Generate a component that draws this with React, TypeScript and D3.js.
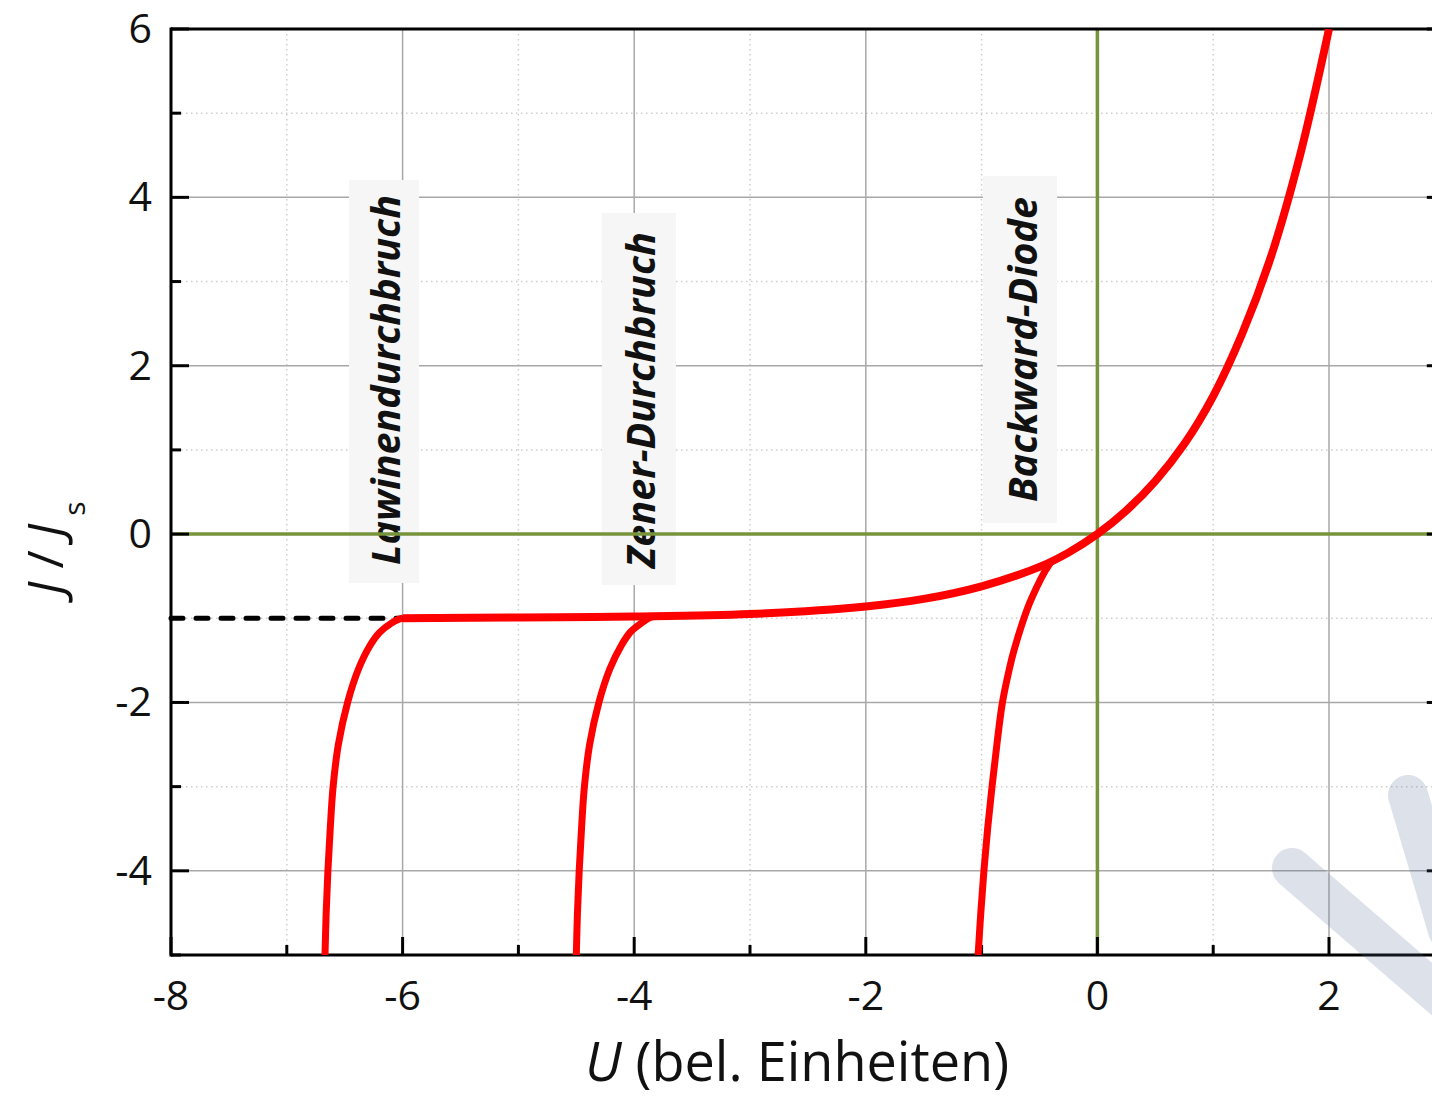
import React from 'react';
import * as d3 from 'd3';

// ---------- data ----------
const xMajorTicks = [-8, -6, -4, -2, 0, 2];
const xMinorTicks = [-7, -5, -3, -1, 1, 3];
const yMajorTicks = [-4, -2, 0, 2, 4, 6];
const yMinorTicks = [-5, -3, -1, 1, 3, 5];

// ideal diode characteristic J/Js vs U
const mainU = [-6, -5, -4, -3, -2, -1.5, -1, -0.5, -0.25, 0, 0.25, 0.5, 0.75, 1, 1.25, 1.5, 1.75, 2];
const mainJ = [-1.0, -0.99, -0.98, -0.95, -0.86, -0.77, -0.62, -0.39, -0.22, 0, 0.28, 0.63, 1.07, 1.64, 2.38, 3.3, 4.5, 6.0];

// avalanche breakdown branch
const avalU = [-6.67, -6.66, -6.645, -6.625, -6.6, -6.555, -6.475, -6.38, -6.28, -6.2, -6.1, -6.03, -6.0];
const avalJ = [-5, -4.5, -4, -3.5, -3, -2.5, -2, -1.6, -1.32, -1.17, -1.06, -1.01, -1.0];

// Zener breakdown branch
const zenerU = [-4.5, -4.49, -4.475, -4.455, -4.43, -4.385, -4.305, -4.21, -4.11, -4.03, -3.93, -3.86, -3.83];
const zenerJ = [-5, -4.5, -4, -3.5, -3, -2.5, -2, -1.6, -1.32, -1.16, -1.05, -0.99, -0.976];

// backward diode branch
const backU = [-1.03, -1.007, -0.98, -0.948, -0.91, -0.868, -0.82, -0.76, -0.72, -0.6, -0.52, -0.46, -0.4];
const backJ = [-5, -4.5, -4, -3.5, -3, -2.5, -2, -1.6, -1.38, -0.87, -0.62, -0.46, -0.33];

// saturation level (dashed)
const satU = [-8, -6];
const satJ = [-1, -1];

const labels = ['Lawinendurchbruch', 'Zener-Durchbruch', 'Backward-Diode'];

// ---------- layout ----------
const W = 1432;
const H = 1098;
const PL = 171;
const PT = 29;
const PB = 955;
const UNIT = 115.8;
const PR = PL + 11 * UNIT;

const x = d3.scaleLinear().domain([-8, 3]).range([PL, PR]);
const y = d3.scaleLinear().domain([-5, 6]).range([PB, PT]);

const line = d3
  .line<[number, number]>()
  .x((d) => x(d[0]))
  .y((d) => y(d[1]))
  .curve(d3.curveCatmullRom.alpha(0.5));

const straight = d3
  .line<[number, number]>()
  .x((d) => x(d[0]))
  .y((d) => y(d[1]));

const zip = (a: number[], b: number[]) => a.map((v, i) => [v, b[i]] as [number, number]);

const FONT = "'Open Sans', 'DejaVu Sans', sans-serif";

// label boxes (positions in picture)
const labelBoxes = [
  { x0: 349, x1: 419, y0: 180, y1: 583, tx: 400, tyStart: 565, len: 370 },
  { x0: 602, x1: 676, y0: 213, y1: 585, tx: 655, tyStart: 568, len: 336 },
  { x0: 983, x1: 1057, y0: 176, y1: 523, tx: 1037, tyStart: 502, len: 305 },
];

export default function App() {
  return (
    <svg
      width={W}
      height={H}
      viewBox={`0 0 ${W} ${H}`}
      style={{ position: 'absolute', left: 0, top: 0, display: 'block', background: '#fff' }}
    >
      <defs>
        <clipPath id="plotClip">
          <rect x={PL} y={PT} width={PR - PL} height={PB - PT} />
        </clipPath>
      </defs>
      <rect x={0} y={0} width={W} height={H} fill="#fff" />

      {/* minor grid */}
      <g stroke="#cdcdcd" strokeWidth={1.5} strokeDasharray="1.5,3.5">
        {xMinorTicks.map((t) => (
          <line key={'vx' + t} x1={x(t)} x2={x(t)} y1={PT} y2={PB} />
        ))}
        {yMinorTicks.map((t) => (
          <line key={'hy' + t} x1={PL} x2={PR} y1={y(t)} y2={y(t)} />
        ))}
      </g>
      {/* major grid */}
      <g stroke="#a8a8a8" strokeWidth={1.5}>
        {xMajorTicks
          .filter((t) => t !== 0 && t !== -8)
          .map((t) => (
            <line key={'VX' + t} x1={x(t)} x2={x(t)} y1={PT} y2={PB} />
          ))}
        {yMajorTicks
          .filter((t) => t !== 0 && t !== 6)
          .map((t) => (
            <line key={'HY' + t} x1={PL} x2={PR} y1={y(t)} y2={y(t)} />
          ))}
      </g>

      {/* label boxes */}
      {labelBoxes.map((b, i) => (
        <rect key={'box' + i} x={b.x0} y={b.y0} width={b.x1 - b.x0} height={b.y1 - b.y0} fill="#f6f6f6" />
      ))}
      {labelBoxes.map((b, i) => (
        <text
          key={'lab' + i}
          transform={`translate(${b.tx},${b.tyStart}) rotate(-90)`}
          fontFamily={FONT}
          fontStyle="italic"
          fontWeight={700}
          fontSize={40}
          fill="#111"
          textLength={b.len}
          lengthAdjust="spacingAndGlyphs"
        >
          {labels[i]}
        </text>
      ))}

      {/* green axes at 0 */}
      <g stroke="#77933c" strokeWidth={3.5}>
        <line x1={x(0)} x2={x(0)} y1={PT} y2={PB} />
        <line x1={PL} x2={PR} y1={y(0)} y2={y(0)} />
      </g>

      {/* dashed saturation line */}
      <path
        d={straight(zip(satU, satJ)) || ''}
        stroke="#000"
        strokeWidth={5}
        strokeDasharray="12,13"
        strokeLinecap="round"
        fill="none"
      />

      {/* frame */}
      <g stroke="#000" strokeWidth={3} fill="none">
        <line x1={PL} x2={PR} y1={PT} y2={PT} />
        <line x1={PL} x2={PR} y1={PB} y2={PB} />
        <line x1={PL} x2={PL} y1={PT - 1.5} y2={PB + 1.5} />
        <line x1={PR} x2={PR} y1={PT - 1.5} y2={PB + 1.5} />
      </g>
      {/* ticks */}
      <g stroke="#000" strokeWidth={3}>
        {xMajorTicks.map((t) => (
          <line key={'tx' + t} x1={x(t)} x2={x(t)} y1={PB} y2={PB - 18} />
        ))}
        {xMinorTicks.map((t) => (
          <line key={'tmx' + t} x1={x(t)} x2={x(t)} y1={PB} y2={PB - 10} />
        ))}
        {yMajorTicks.map((t) => (
          <React.Fragment key={'ty' + t}>
            <line x1={PL} x2={PL + 18} y1={y(t)} y2={y(t)} />
            <line x1={PR} x2={PR - 18} y1={y(t)} y2={y(t)} />
          </React.Fragment>
        ))}
        {yMinorTicks.map((t) => (
          <React.Fragment key={'tmy' + t}>
            <line x1={PL} x2={PL + 10} y1={y(t)} y2={y(t)} />
            <line x1={PR} x2={PR - 10} y1={y(t)} y2={y(t)} />
          </React.Fragment>
        ))}
      </g>

      {/* curves */}
      <g clipPath="url(#plotClip)" fill="none" stroke="#ff0000" strokeLinecap="butt" strokeLinejoin="round">
        <path d={line(zip(avalU, avalJ)) || ''} strokeWidth={7} />
        <path d={line(zip(zenerU, zenerJ)) || ''} strokeWidth={7} />
        <path d={line(zip(backU, backJ)) || ''} strokeWidth={7} />
        <path d={line(zip(mainU, mainJ)) || ''} strokeWidth={8} />
      </g>

      {/* tick labels */}
      <g fontFamily={FONT} fontSize={41} fill="#111">
        {xMajorTicks.map((t) => (
          <text key={'lx' + t} x={x(t)} y={1010} textAnchor="middle">
            {t}
          </text>
        ))}
        {yMajorTicks.map((t) => (
          <text key={'ly' + t} x={152} y={y(t) + 14} textAnchor="end">
            {t}
          </text>
        ))}
      </g>

      {/* axis titles */}
      <text x={797} y={1081} textAnchor="middle" fontFamily={FONT} fontSize={54} fill="#111">
        <tspan fontStyle="italic">U</tspan>
        <tspan> (bel. Einheiten)</tspan>
      </text>
      <text transform="translate(63,595) rotate(-90)" fontFamily={FONT} fontSize={50} fill="#111">
        <tspan fontStyle="italic">J</tspan>
        <tspan> / </tspan>
        <tspan fontStyle="italic">J</tspan>
        <tspan fontSize={30} dx={8} dy={22}>s</tspan>
      </text>

      {/* watermark fragment */}
      <g stroke="rgb(80,105,150)" strokeOpacity={0.2} strokeWidth={40} strokeLinecap="round" fill="none">
        <line x1={1292} y1={868} x2={1470} y2={1022} />
        <line x1={1408} y1={795} x2={1448} y2={930} />
      </g>
    </svg>
  );
}
